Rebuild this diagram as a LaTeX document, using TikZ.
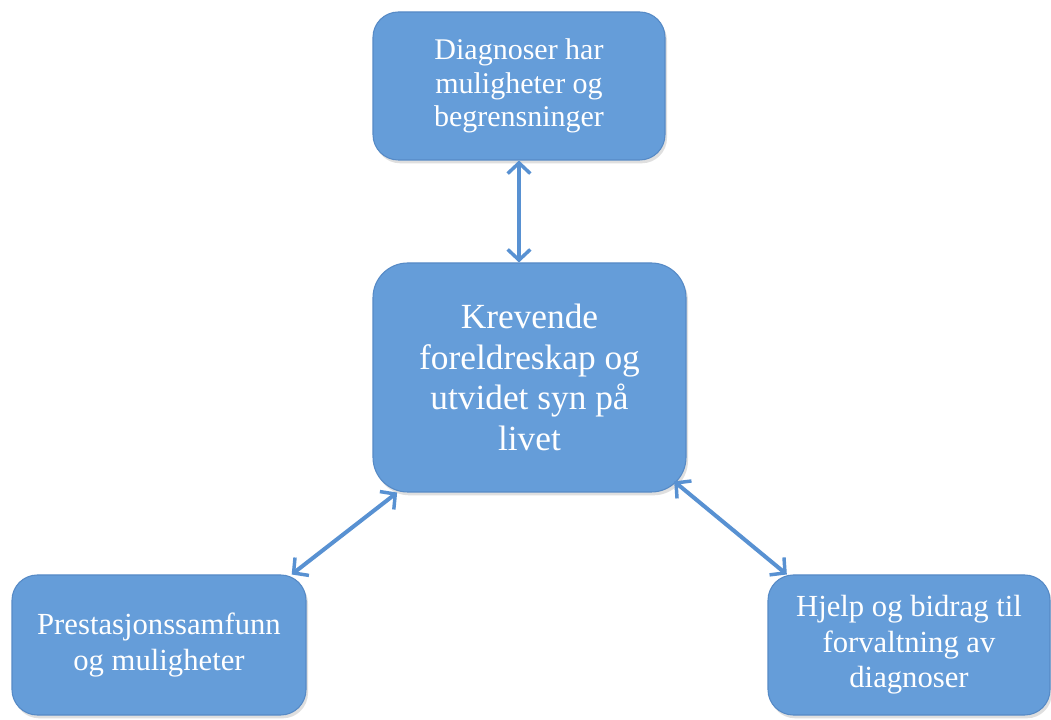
\documentclass[tikz,border=0pt]{standalone}
\usepackage{fontspec}
\setmainfont{Liberation Serif}
\usetikzlibrary{arrows.meta,shadows}
\definecolor{boxfill}{RGB}{101,157,217}
\definecolor{boxline}{RGB}{86,138,198}
\definecolor{arrowc}{RGB}{88,145,210}
\begin{document}
\begin{tikzpicture}[x=0.75pt,y=-0.75pt,
  box/.style={draw=boxline, line width=0.8pt, fill=boxfill, rounded corners=#1,
    text=white, align=center, inner sep=0pt,
    drop shadow={shadow xshift=1.5pt, shadow yshift=-2.5pt, opacity=0.25}},
  smalltxt/.style={font=\fontsize{22.5}{25}\selectfont},
  bigtxt/.style={font=\fontsize{26.5}{30.5}\selectfont},
  midtxt/.style={font=\fontsize{23}{26.5}\selectfont},
  arr/.style={draw=arrowc, line width=3pt,
    {Straight Barb[length=8pt,width=17pt,line width=2.6pt]}-{Straight Barb[length=8pt,width=17pt,line width=2.6pt]}}
]
\fill[white] (0,0) rectangle (1051,720);
\useasboundingbox (0,0) rectangle (1051,720);

\node[box=19pt, smalltxt, minimum width=219pt, minimum height=111pt] (top) at (519,86)
  {Diagnoser har\\muligheter og\\begrensninger};
\node[box=26pt, bigtxt, minimum width=234.75pt, minimum height=171.75pt] (center) at (529.5,377.5)
  {Krevende\\foreldreskap og\\utvidet syn på\\livet};
\node[box=19pt, midtxt, minimum width=220.5pt, minimum height=105pt] (bl) at (159,645)
  {Prestasjonssamfunn\\og muligheter};
\node[box=19pt, midtxt, minimum width=211.5pt, minimum height=105pt] (br) at (909,645)
  {Hjelp og bidrag til\\forvaltning av\\diagnoser};

\draw[arr] (top.south) -- (top.south |- center.north);
\draw[arr] (center.221) -- (bl.28);
\draw[arr, shorten <=-12pt] (center.-36) -- (br.150);
\end{tikzpicture}
\end{document}
